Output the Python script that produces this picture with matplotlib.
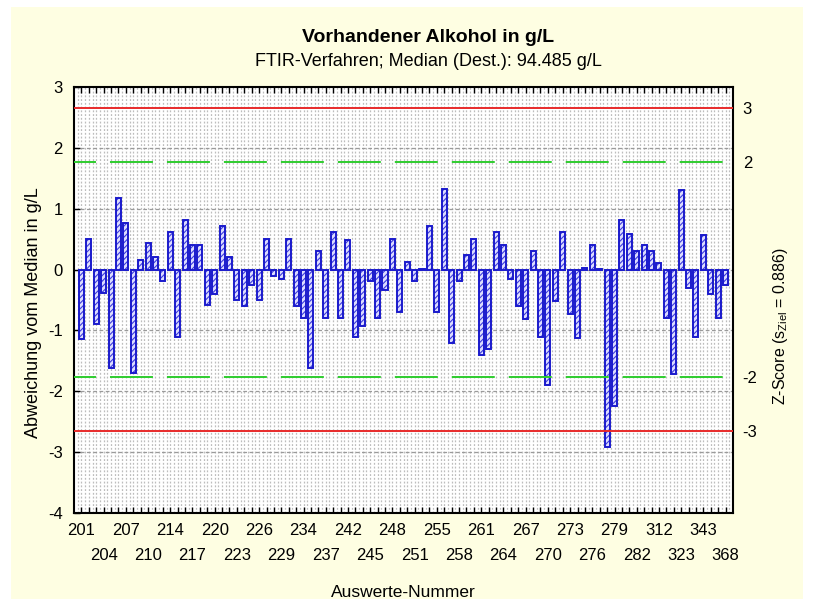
import numpy as np
import matplotlib.pyplot as plt
from matplotlib.patches import Rectangle

plt.rcParams['font.family'] = ['Liberation Sans', 'DejaVu Sans']
plt.rcParams['axes.unicode_minus'] = False
plt.rcParams['hatch.linewidth'] = 0.8

# Kennwerte
median = 94.485
s_ziel = 0.886

# Auswerte-Nummern (jede dritte beschriftet)
labels = ['201', '204', '207', '210', '214', '217', '220', '223', '226', '229',
          '234', '237', '242', '245', '248', '251', '255', '258', '261', '264',
          '267', '270', '273', '276', '279', '282', '312', '323', '343', '368']

# Abweichung vom Median in g/L
abweichung = [-1.14, 0.50, -0.90, -0.39, -1.61, 1.18, 0.76, -1.70, 0.15, 0.44,
              0.20, -0.19, 0.61, -1.10, 0.81, 0.41, 0.41, -0.59, -0.40, 0.71,
              0.20, -0.50, -0.60, -0.25, -0.50, 0.51, -0.10, -0.16, 0.51, -0.60,
              -0.80, -1.61, 0.31, -0.80, 0.61, -0.80, 0.49, -1.10, -0.92, -0.19,
              -0.80, -0.33, 0.50, -0.70, 0.12, -0.19, 0.01, 0.71, -0.70, 1.32,
              -1.20, -0.19, 0.24, 0.50, -1.40, -1.30, 0.61, 0.41, -0.16, -0.60,
              -0.81, 0.31, -1.10, -1.89, -0.51, 0.61, -0.73, -1.13, 0.02, 0.41,
              0.01, -2.92, -2.24, 0.81, 0.58, 0.31, 0.41, 0.30, 0.11, -0.80,
              -1.71, 1.31, -0.30, -1.10, 0.56, -0.40, -0.80, -0.25]

z_ticks = [3, 2, -2, -3]

x = np.arange(len(abweichung))

fig = plt.figure(figsize=(8.14, 6.06), dpi=100)
fig.patch.set_facecolor('white')
fig.add_artist(Rectangle((11 / 814, 7 / 606), 792 / 814, 592 / 606,
                         transform=fig.transFigure, facecolor='#fefee2',
                         edgecolor='none', zorder=-10))

ax = fig.add_axes([74 / 814, 1 - 513 / 606, 659 / 814, 426 / 606])
ax.set_facecolor('white')
ax.set_xlim(-1, len(abweichung))
ax.set_ylim(-4, 3)

# Gitter
ax.vlines(np.arange(-0.5, len(abweichung), 0.5), -4, 3, colors='#bdbdbd',
          linestyles=(0, (1.5, 1.5)), linewidth=0.9, zorder=1)
ax.hlines(np.arange(-3, 3), -1, len(abweichung), colors='#9a9a9a',
          linestyles=(0, (3, 2)), linewidth=0.9, zorder=1)

# Balken: Schraffur, Rand kräftig blau
ax.bar(x, abweichung, width=0.68, facecolor='#dcdcff', edgecolor='#3c3cdc',
       linewidth=0, hatch='//////', zorder=3)
ax.bar(x, abweichung, width=0.68, facecolor='none', edgecolor='#1a1acc',
       linewidth=1.4, zorder=3)

# Grenzlinien
ax.axhline(3 * s_ziel, color='#e82a2a', linewidth=1.4, zorder=4)
ax.axhline(-3 * s_ziel, color='#e82a2a', linewidth=1.4, zorder=4)
ax.axhline(2 * s_ziel, color='#2ecc2e', linewidth=1.4, linestyle=(10.8, (22.1, 7.2)), zorder=4)
ax.axhline(-2 * s_ziel, color='#2ecc2e', linewidth=1.4, linestyle=(10.8, (22.1, 7.2)), zorder=4)

# Achsen
ax.set_xticks(x[::3], labels)
ax.set_xticks(x, minor=True)
ax.tick_params(axis='x', which='both', direction='in', top=True, bottom=True,
               length=4, width=1, labelsize=12, pad=7)
for i, t in enumerate(ax.xaxis.get_major_ticks()):
    if i % 2 == 1:
        t.set_pad(25)
ax.set_yticks(np.arange(-4, 4))
ax.tick_params(axis='y', direction='in', left=True, right=True, length=4,
               width=1, labelsize=12, pad=8)
for sp in ax.spines.values():
    sp.set_linewidth(1.5)

ax.set_ylabel('Abweichung vom Median in g/L', fontsize=13)
ax.yaxis.set_label_coords(-0.048, 0.47)
ax.set_xlabel('Auswerte-Nummer', fontsize=12.5)
ax.xaxis.set_label_coords(0.5, -0.17)

ax2 = ax.twinx()
ax2.set_ylim(-4, 3)
ax2.set_yticks([z * s_ziel for z in z_ticks], [str(z) for z in z_ticks])
ax2.tick_params(axis='y', length=0, labelsize=12, pad=7)
ax2.set_ylabel('Z-Score (s$_{\\mathregular{Ziel}}$ = ' + str(s_ziel) + ')', fontsize=11.5)
ax2.yaxis.set_label_coords(1.058, 0.44)
for sp in ax2.spines.values():
    sp.set_visible(False)

fig.text(428 / 814, 1 - 37 / 606, 'Vorhandener Alkohol in g/L', ha='center',
         va='center', fontsize=14, fontweight='bold')
fig.text(428 / 814, 1 - 62 / 606,
         'FTIR-Verfahren; Median (Dest.): ' + str(median) + ' g/L',
         ha='center', va='center', fontsize=13)

fig.savefig('out.png', dpi=100)
